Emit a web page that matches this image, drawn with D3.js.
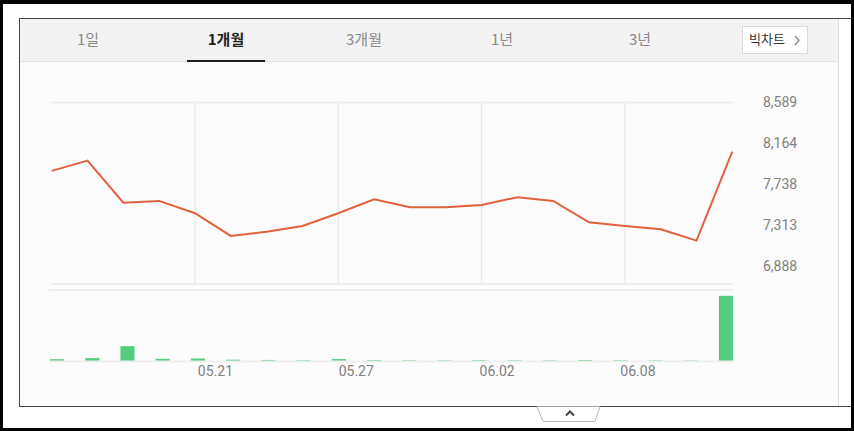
<!DOCTYPE html>
<html>
<head>
<meta charset="utf-8">
<script src="https://cdn.jsdelivr.net/npm/d3@7"></script>
<style>
  html, body { margin: 0; padding: 0; background: #fff; }
  svg { display: block; }
</style>
</head>
<body>
<svg id="c" width="854" height="431"></svg>
<script>
// ---- data ----
const dates = ["05.15","05.16","05.19","05.20","05.21","05.22","05.23","05.26","05.27","05.28",
               "05.29","05.30","06.02","06.03","06.04","06.05","06.08","06.09","06.10","06.11"];
const prices = [7878, 7985, 7547, 7565, 7437, 7201, 7245, 7305, 7437, 7583,
                7499, 7499, 7523, 7604, 7565, 7343, 7305, 7270, 7152, 8079];
const volumes = [20, 36, 222, 26, 31, 12, 9, 6, 22, 8,
                 6, 5, 7, 6, 5, 8, 6, 5, 4, 1000];
const priceTicks = [8589, 8164, 7738, 7313, 6888];
const labelDates = ["05.21", "05.27", "06.02", "06.08"];
const tabs = ["1일", "1개월", "3개월", "1년", "3년"];
const activeTab = "1개월";

const svg = d3.select("#c");

// ---- frame & widget ----
svg.append("rect").attr("x", 20).attr("y", 19).attr("width", 818).attr("height", 387).attr("fill", "#fcfcfc");
svg.append("rect").attr("x", 20).attr("y", 19).attr("width", 818).attr("height", 42).attr("fill", "#f3f3f3");
svg.append("line").attr("x1", 20).attr("x2", 838).attr("y1", 61.5).attr("y2", 61.5).attr("stroke", "#e2e2e2");
svg.append("line").attr("x1", 838.5).attr("x2", 838.5).attr("y1", 19).attr("y2", 406).attr("stroke", "#dcdcdc");

// widget borders
svg.append("line").attr("x1", 19).attr("x2", 854).attr("y1", 18.5).attr("y2", 18.5).attr("stroke", "#444");
svg.append("line").attr("x1", 19.5).attr("x2", 19.5).attr("y1", 18).attr("y2", 406).attr("stroke", "#444");
svg.append("line").attr("x1", 19).attr("x2", 854).attr("y1", 406.5).attr("y2", 406.5).attr("stroke", "#444");

// tabs
const tabX = d3.scalePoint().domain(tabs).range([88, 640]);
svg.append("g").selectAll("text").data(tabs).join("text")
  .attr("x", d => tabX(d)).attr("y", 41)
  .attr("text-anchor", "middle").attr("dominant-baseline", "middle")
  .attr("font-family", "'Noto Sans CJK KR', 'Noto Sans', sans-serif")
  .attr("font-size", 15)
  .attr("font-weight", d => d === activeTab ? 700 : 400)
  .attr("fill", d => d === activeTab ? "#222" : "#8a8a8a")
  .text(d => d);
svg.append("rect").attr("x", tabX(activeTab) - 39).attr("y", 60).attr("width", 78).attr("height", 2).attr("fill", "#1e1e1e");

// big chart button
svg.append("rect").attr("x", 742.5).attr("y", 26.5).attr("width", 65).attr("height", 27)
  .attr("fill", "#fff").attr("stroke", "#dcdcdc");
svg.append("text").attr("x", 749).attr("y", 40.5).attr("dominant-baseline", "middle")
  .attr("font-family", "'Noto Sans CJK KR', sans-serif").attr("font-size", 13).attr("fill", "#333")
  .text("빅차트");
svg.append("polyline").attr("points", "795,36 799,40.5 795,45").attr("fill", "none")
  .attr("stroke", "#888").attr("stroke-width", 1.2);

// ---- scales ----
const x = d3.scalePoint().domain(dates).range([51.7, 732.3]);
const y = d3.scaleLinear().domain([6888, 8589]).range([266, 102.5]);
const xb = d3.scaleBand().domain(dates).range([50, 733]).paddingInner(0.6).paddingOuter(0);
const yv = d3.scaleLinear().domain([0, d3.max(volumes) * 1.09]).range([360.5, 290]);

// ---- price panel grid ----
svg.append("line").attr("x1", 51).attr("x2", 733).attr("y1", y(8589)).attr("y2", y(8589))
  .attr("stroke", "#eeeeee").attr("stroke-width", 2);
svg.append("line").attr("x1", 51).attr("x2", 733).attr("y1", 284).attr("y2", 284)
  .attr("stroke", "#eeeeee").attr("stroke-width", 2);
svg.append("g").selectAll("line").data(labelDates).join("line")
  .attr("x1", d => x(d)).attr("x2", d => x(d))
  .attr("y1", y(8589)).attr("y2", 284)
  .attr("stroke", "#ebebeb").attr("stroke-width", 1.5);

// y axis
const yAxis = d3.axisRight(y).tickValues(priceTicks).tickFormat(d3.format(",")).tickSize(0).tickPadding(30);
const ya = svg.append("g").attr("transform", "translate(733,0)").call(yAxis);
ya.select(".domain").remove();
ya.selectAll("text").attr("font-family", "Roboto, sans-serif").attr("font-size", 14).attr("fill", "#808080");

// price line
svg.append("path").datum(prices)
  .attr("fill", "none").attr("stroke", "#e2603d").attr("stroke-width", 2)
  .attr("stroke-linejoin", "miter")
  .attr("d", d3.line().x((d, i) => x(dates[i])).y(d => y(d)));

// ---- volume panel ----
svg.append("line").attr("x1", 49).attr("x2", 733).attr("y1", 290).attr("y2", 290)
  .attr("stroke", "#eeeeee").attr("stroke-width", 2);
svg.append("line").attr("x1", 50).attr("x2", 733).attr("y1", 361.5).attr("y2", 361.5)
  .attr("stroke", "#eeeeee").attr("stroke-width", 2);
svg.append("g").selectAll("rect").data(volumes).join("rect")
  .attr("x", (d, i) => xb(dates[i])).attr("width", xb.bandwidth())
  .attr("y", d => yv(d)).attr("height", d => yv(0) - yv(d))
  .attr("fill", "#52cc7d");

// x labels
const xAxis = d3.axisBottom(xb).tickValues(labelDates).tickSize(0).tickPadding(0);
const xa = svg.append("g").attr("transform", "translate(0,372)").call(xAxis);
xa.select(".domain").remove();
xa.selectAll(".tick").attr("transform", d => `translate(${xb(d) + xb.bandwidth() / 2},0)`);
xa.selectAll("text").attr("text-anchor", "start").attr("dy", null).attr("y", 0)
  .attr("dominant-baseline", "middle")
  .attr("font-family", "Roboto, sans-serif").attr("font-size", 14).attr("fill", "#808080");

// bottom toggle tab
svg.append("path").attr("d", "M537,406.5 L543,421.5 L595,421.5 L600,406.5")
  .attr("fill", "#fff").attr("stroke", "#b8b8b8");
svg.append("polyline").attr("points", "566,415.5 570,411.5 574,415.5").attr("fill", "none")
  .attr("stroke", "#444").attr("stroke-width", 2);

// outer black frame
svg.append("rect").attr("x", 0).attr("y", 0).attr("width", 854).attr("height", 4).attr("fill", "#000");
svg.append("rect").attr("x", 0).attr("y", 428).attr("width", 854).attr("height", 3).attr("fill", "#000");
svg.append("rect").attr("x", 0).attr("y", 0).attr("width", 3).attr("height", 431).attr("fill", "#000");
svg.append("rect").attr("x", 851).attr("y", 0).attr("width", 3).attr("height", 431).attr("fill", "#000");
</script>
</body>
</html>
